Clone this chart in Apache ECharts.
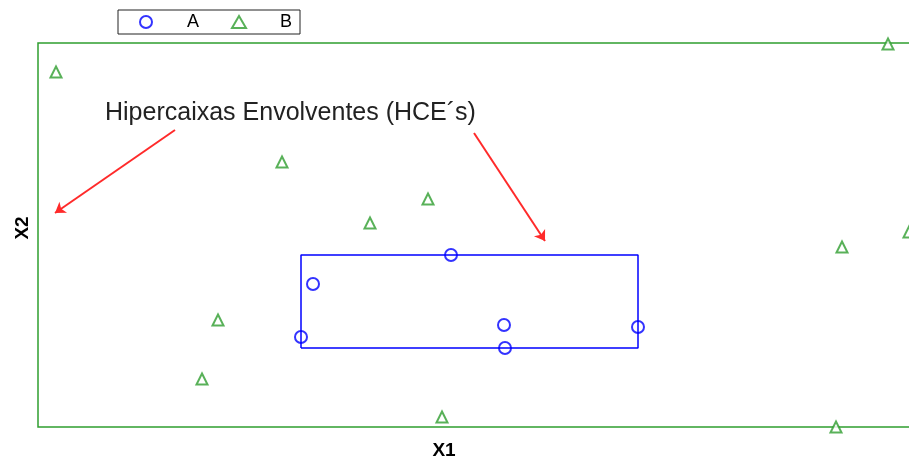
<!DOCTYPE html>
<html lang="pt">
<head>
    <meta charset="UTF-8">
    <title>Hipercaixas Envolventes</title>
    <style>html,body{margin:0;padding:0;background:#fff;}</style>
</head>
<body>
<div id="main" style="width: 909px;height:461px;"></div>
<script type="text/javascript" src="https://cdn.jsdelivr.net/npm/echarts@6/dist/echarts.min.js"></script>
<script type="text/javascript">
    // pontos da classe A e B (X1, X2)
    var pontosA = [[413, 172], [275, 143], [263, 90], [466, 102], [467, 79], [600, 100]];
    var pontosB = [[18, 355], [850, 383], [244, 265], [390, 228], [332, 204], [804, 180],
                   [871, 195], [180, 107], [164, 48], [404, 10], [798, 0]];
    // hipercaixa envolvente da classe A
    var caixaA = [[263, 79], [263, 172], [600, 172], [600, 79], [263, 79]];
    // setas da anotacao: [inicio, fim]
    var setas = [
        [[137, 297], [17, 214]],
        [[436, 294], [507, 186]]
    ];

    var verde = '#2f9e2f', azul = '#0000ff', vermelho = '#ff2a2a';

    var myChart = echarts.init(document.getElementById('main'));
    var option = {
        animation: false,
        grid: {
            left: 38, top: 43, width: 880, height: 384,
            outerBoundsMode: 'none', containLabel: false,
            show: true, borderColor: verde, borderWidth: 1.5, backgroundColor: 'transparent'
        },
        legend: {
            left: 118, top: 10,
            padding: [3, 8, 3, 21],
            borderColor: '#222', borderWidth: 1,
            itemWidth: 14, itemHeight: 12, itemGap: 32,
            data: [{name: 'A', icon: 'emptyCircle'}, {name: 'B', icon: 'emptyTriangle'}],
            formatter: '{t|{name}}',
            textStyle: {
                fontFamily: 'Liberation Sans', fontSize: 18, color: '#000',
                rich: {t: {width: 41, align: 'right', fontFamily: 'Liberation Sans', fontSize: 18, color: '#000'}}
            }
        },
        xAxis: {
            type: 'value', min: 0, max: 880,
            axisLine: {show: false}, axisTick: {show: false}, axisLabel: {show: false}, splitLine: {show: false},
            name: 'X1', nameLocation: 'middle', nameGap: 14,
            nameTextStyle: {fontFamily: 'Liberation Sans', fontWeight: 'bold', fontSize: 19, color: '#000', padding: [0, 68, 0, 0]}
        },
        yAxis: {
            type: 'value', min: 0, max: 384,
            axisLine: {show: false}, axisTick: {show: false}, axisLabel: {show: false}, splitLine: {show: false},
            name: 'X2', nameLocation: 'middle', nameGap: 6,
            nameTextStyle: {fontFamily: 'Liberation Sans', fontWeight: 'bold', fontSize: 19, color: '#000', padding: [0, 0, 0, 14]}
        },
        graphic: [{
            type: 'text', left: 105, top: 101,
            style: {text: 'Hipercaixas Envolventes (HCE´s)', font: '25px "Liberation Sans"', fill: '#222'}
        }],
        series: [{
            name: 'caixaA',
            type: 'line',
            data: caixaA,
            symbol: 'none',
            lineStyle: {color: azul, width: 1.5},
            silent: true
        }, {
            name: 'A',
            type: 'scatter',
            data: pontosA,
            symbol: 'emptyCircle',
            symbolSize: 12,
            itemStyle: {color: azul, borderColor: azul, borderWidth: 1.3}
        }, {
            name: 'B',
            type: 'scatter',
            data: pontosB,
            symbol: 'emptyTriangle',
            symbolSize: 11,
            clip: false,
            itemStyle: {color: verde, borderColor: verde, borderWidth: 1.5},
            markLine: {
                silent: true,
                symbol: ['none', 'arrow'],
                symbolSize: 10,
                label: {show: false},
                lineStyle: {color: vermelho, width: 2, type: 'solid'},
                data: setas.map(function (s) {
                    return [{coord: s[0]}, {coord: s[1]}];
                })
            }
        }]
    };
    myChart.setOption(option);
</script>
</body>
</html>
